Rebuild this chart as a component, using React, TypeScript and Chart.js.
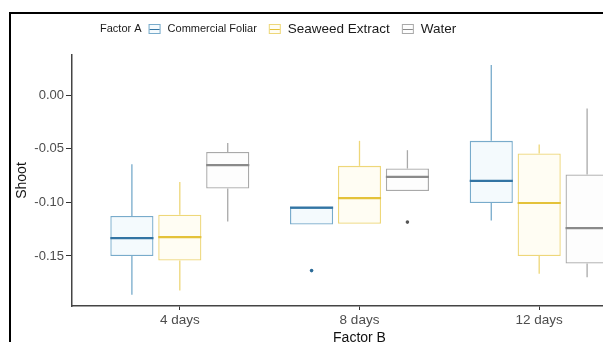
import React, { useEffect, useRef } from "react";
import { Chart, registerables } from "chart.js";

Chart.register(...registerables);

const categories = ["4 days", "8 days", "12 days"];
const yTickValues = [-0.15, -0.1, -0.05, 0.0];
const legendTitle = "Factor A";
const xTitle = "Factor B";
const yTitle = "Shoot";
const seriesNames = ["Commercial Foliar", "Seaweed Extract", "Water"];

// Commercial Foliar
const foliarLow = [-0.186, -0.1206, -0.117];
const foliarQ1 = [-0.15, -0.1206, -0.1006];
const foliarMedian = [-0.1334, -0.105, -0.08];
const foliarQ3 = [-0.1128, -0.105, -0.0427];
const foliarHigh = [-0.0645, -0.1045, 0.028];
const foliarOutliers = [[], [-0.1636], []];

// Seaweed Extract
const seaweedLow = [-0.1822, -0.12, -0.1666];
const seaweedQ1 = [-0.1542, -0.12, -0.15];
const seaweedMedian = [-0.1324, -0.096, -0.1006];
const seaweedQ3 = [-0.1115, -0.066, -0.0545];
const seaweedHigh = [-0.081, -0.0427, -0.046];
const seaweedOutliers = [[], [], []];

// Water
const waterLow = [-0.1178, -0.0894, -0.1697];
const waterQ1 = [-0.0872, -0.0894, -0.157];
const waterMedian = [-0.0654, -0.0763, -0.124];
const waterQ3 = [-0.053, -0.0685, -0.0741];
const waterHigh = [-0.0446, -0.0514, -0.0125];
const waterOutliers = [[], [-0.1184], []];

const FONT = "'Liberation Sans', Arial, Helvetica, sans-serif";

const styles = [
  { border: "#78abcb", fill: "rgba(240,248,252,0.7)", median: "#3274a3", dot: "#2c6b98" },
  { border: "#eed779", fill: "rgba(255,252,238,0.7)", median: "#e4c23a", dot: "#c9a52a" },
  { border: "#a9a9a9", fill: "rgba(252,252,252,0.7)", median: "#8a8a8a", dot: "#555555" },
];

const stats = [
  { lo: foliarLow, q1: foliarQ1, med: foliarMedian, q3: foliarQ3, hi: foliarHigh, out: foliarOutliers },
  { lo: seaweedLow, q1: seaweedQ1, med: seaweedMedian, q3: seaweedQ3, hi: seaweedHigh, out: seaweedOutliers },
  { lo: waterLow, q1: waterQ1, med: waterMedian, q3: waterQ3, hi: waterHigh, out: waterOutliers },
];

const legendFontSizes = [11, 13.5, 13.5];

const boxPlugin = {
  id: "boxExtras",
  afterDatasetsDraw(chart: any) {
    const ctx = chart.ctx;
    const y = chart.scales.y;
    stats.forEach((s, i) => {
      const meta = chart.getDatasetMeta(i);
      meta.data.forEach((bar: any, j: number) => {
        const { x, width } = bar.getProps(["x", "width"], true);
        const st = styles[i];
        ctx.save();
        ctx.lineCap = "butt";
        ctx.strokeStyle = st.border;
        ctx.lineWidth = 1.3;
        const yq3 = y.getPixelForValue(s.q3[j]);
        const yq1 = y.getPixelForValue(s.q1[j]);
        const yhi = y.getPixelForValue(s.hi[j]);
        const ylo = y.getPixelForValue(s.lo[j]);
        ctx.beginPath();
        ctx.moveTo(x, yq3);
        ctx.lineTo(x, yhi);
        ctx.moveTo(x, yq1);
        ctx.lineTo(x, ylo);
        ctx.stroke();
        const ym = y.getPixelForValue(s.med[j]);
        ctx.strokeStyle = st.median;
        ctx.lineWidth = 2.2;
        ctx.beginPath();
        ctx.moveTo(x - width / 2, ym);
        ctx.lineTo(x + width / 2, ym);
        ctx.stroke();
        ctx.fillStyle = st.dot;
        s.out[j].forEach((v: number) => {
          ctx.beginPath();
          ctx.arc(x, y.getPixelForValue(v), 1.8, 0, Math.PI * 2);
          ctx.fill();
        });
        ctx.restore();
      });
    });
  },
  afterDraw(chart: any) {
    const ctx = chart.ctx;
    ctx.save();
    // legend
    const cy = 29;
    ctx.textBaseline = "middle";
    ctx.textAlign = "left";
    ctx.fillStyle = "#1a1a1a";
    ctx.font = `11px ${FONT}`;
    let x = 100;
    ctx.fillText(legendTitle, x, cy);
    x += ctx.measureText(legendTitle).width + 7;
    seriesNames.forEach((name, i) => {
      const st = styles[i];
      ctx.fillStyle = st.fill;
      ctx.fillRect(x, cy - 5, 12, 10);
      ctx.strokeStyle = st.border;
      ctx.lineWidth = 1;
      ctx.strokeRect(x + 0.5, cy - 4.5, 11, 9);
      ctx.strokeStyle = st.median;
      ctx.beginPath();
      ctx.moveTo(x + 1, cy + 0.5);
      ctx.lineTo(x + 11, cy + 0.5);
      ctx.stroke();
      x += 12 + 7;
      ctx.fillStyle = "#1a1a1a";
      ctx.font = `${legendFontSizes[i]}px ${FONT}`;
      ctx.fillText(name, x, cy);
      x += ctx.measureText(name).width + 12;
    });
    // frame
    ctx.fillStyle = "#000";
    ctx.fillRect(9, 12, 700, 2);
    ctx.fillRect(9, 12, 2, 400);
    ctx.restore();
  },
};

export default function App() {
  const ref = useRef<HTMLCanvasElement>(null);
  useEffect(() => {
    const datasets = seriesNames.map((name, i) => ({
      label: name,
      data: categories.map((_, j) => ({ x: j + 1, y: [stats[i].q1[j], stats[i].q3[j]] })),
      backgroundColor: styles[i].fill,
      borderColor: styles[i].border,
      borderWidth: 1.3,
      borderSkipped: false,
      categoryPercentage: 0.8,
      barPercentage: 0.9,
    }));
    const chart = new Chart(ref.current!, {
      type: "bar",
      data: { datasets } as any,
      plugins: [boxPlugin],
      options: {
        animation: false,
        responsive: false,
        layout: { padding: { top: 55, right: 13, left: 0, bottom: 0 } },
        plugins: { legend: { display: false }, tooltip: { enabled: false } },
        scales: {
          x: {
            type: "linear",
            min: 0.4,
            max: 3.6,
            offset: false,
            afterBuildTicks: (s: any) => {
              s.ticks = categories.map((_, i) => ({ value: i + 1 }));
            },
            afterFit: (s: any) => {
              s.height = 36;
            },
            ticks: {
              autoSkip: false,
              maxRotation: 0,
              padding: 2,
              color: "#4d4d4d",
              font: { size: 13.5, family: FONT },
              callback: (v: any) => categories[Math.round(Number(v)) - 1] ?? "",
            },
            grid: {
              display: true,
              offset: false,
              drawOnChartArea: false,
              drawTicks: true,
              tickLength: 4,
              tickColor: "#333",
              tickWidth: 1,
            },
            border: { display: true, color: "#444", width: 1.5 },
            title: {
              display: true,
              text: xTitle,
              color: "#111",
              font: { size: 14, family: FONT },
              padding: { top: 0, bottom: -5 },
            },
          },
          y: {
            min: -0.1966,
            max: 0.0373,
            afterBuildTicks: (s: any) => {
              s.ticks = yTickValues.map((v) => ({ value: v }));
            },
            afterFit: (s: any) => {
              s.width = 72;
            },
            ticks: {
              padding: 2,
              color: "#4d4d4d",
              font: { size: 13, family: FONT },
              callback: (v: any) => Number(v).toFixed(2),
            },
            grid: {
              display: true,
              drawOnChartArea: false,
              drawTicks: true,
              tickLength: 6,
              tickColor: "#333",
              tickWidth: 1,
            },
            border: { display: true, color: "#444", width: 1.5 },
            title: {
              display: true,
              text: yTitle,
              color: "#111",
              font: { size: 14, family: FONT },
              padding: { top: 14, bottom: 0 },
            },
          },
        },
      } as any,
    });
    return () => chart.destroy();
  }, []);
  return (
    <div
      style={{
        position: "fixed",
        left: 0,
        top: 0,
        width: 603,
        height: 342,
        overflow: "hidden",
        background: "#fff",
      }}
    >
      <canvas ref={ref} width={660} height={342} style={{ display: "block" }} />
    </div>
  );
}
